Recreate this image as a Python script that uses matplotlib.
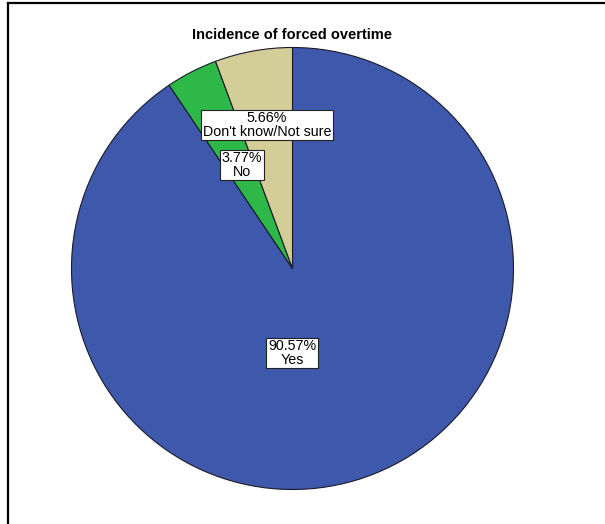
import matplotlib
matplotlib.use("Agg")
import matplotlib.pyplot as plt
from matplotlib.lines import Line2D

categories = ["Yes", "No", "Don't know/Not sure"]
percentages = [90.57, 3.77, 5.66]
colors = ["#3E58AC", "#2EB848", "#D3CE97"]
title = "Incidence of forced overtime"

W, H = 605, 524
fig = plt.figure(figsize=(W / 100, H / 100), dpi=100)
fig.patch.set_facecolor("white")
ax = fig.add_axes([0, 0, 1, 1])

cx, cy, r = 292.5, 268.5, 221
# y axis is inverted below, so a counterclockwise sweep in data space
# runs clockwise on screen, starting from 12 o'clock (-90 degrees)
wedges, _ = ax.pie(
    percentages,
    colors=colors,
    startangle=-90,
    counterclock=True,
    center=(cx, cy),
    radius=r,
    wedgeprops=dict(edgecolor="#1a1a2a", linewidth=0.8),
    frame=True,
)
ax.set_xlim(0, W)
ax.set_ylim(H, 0)
ax.set_aspect("equal")
ax.axis("off")

font = "Liberation Sans"
ax.text(cx, 35, title, ha="center", va="center", fontsize=10.5,
        fontweight="bold", family=font)

box = dict(boxstyle="square,pad=0.12", facecolor="white",
           edgecolor="#222222", linewidth=0.8)
label_pos = {"Yes": (292, 353), "No": (242, 165),
             "Don't know/Not sure": (267, 125)}
for cat, pct in zip(categories, percentages):
    x, y = label_pos[cat]
    ax.text(x, y, f"{pct:.2f}%\n{cat}", ha="center", va="center",
            fontsize=10.3, family=font, linespacing=0.92, bbox=box)

# frame lines on left and top
fig.add_artist(Line2D([7.5 / W, 7.5 / W], [0, 1 - 2.5 / H],
                      transform=fig.transFigure, color="black", lw=1.6))
fig.add_artist(Line2D([7.5 / W, 1], [1 - 2.5 / H, 1 - 2.5 / H],
                      transform=fig.transFigure, color="black", lw=1.6))

fig.savefig("out.png", dpi=100, facecolor="white")
